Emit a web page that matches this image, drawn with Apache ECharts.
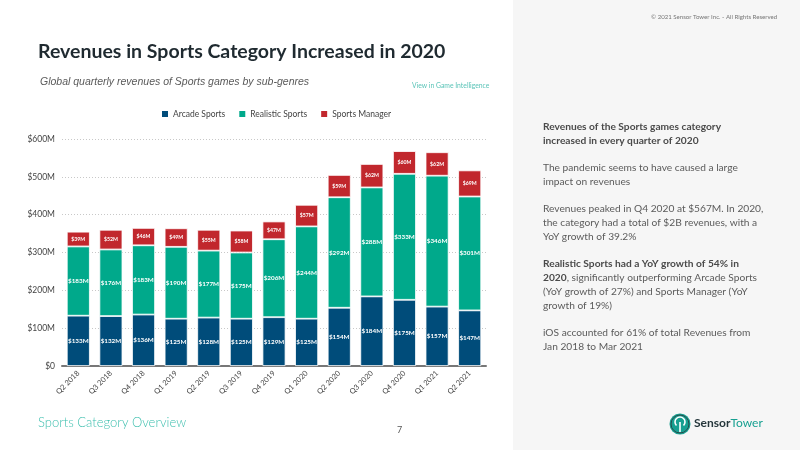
<!DOCTYPE html>
<html>
<head>
<meta charset="utf-8">
<script src="https://cdn.jsdelivr.net/npm/echarts@6/dist/echarts.min.js"></script>
<style>
  html, body { margin: 0; padding: 0; background: #fff; }
  #chart { width: 800px; height: 450px; }
</style>
</head>
<body>
<div id="chart"></div>
<script>
var quarters = ['Q2 2018', 'Q3 2018', 'Q4 2018', 'Q1 2019', 'Q2 2019', 'Q3 2019', 'Q4 2019',
  'Q1 2020', 'Q2 2020', 'Q3 2020', 'Q4 2020', 'Q1 2021', 'Q2 2021'];
var arcade = [133, 132, 136, 125, 128, 125, 129, 125, 154, 184, 175, 157, 147];
var realistic = [183, 176, 183, 190, 177, 175, 206, 244, 292, 288, 333, 346, 301];
var manager = [39, 52, 46, 49, 55, 58, 47, 57, 59, 62, 60, 62, 69];
var yMax = 600;
var yStep = 100;

var chartDom = document.getElementById('chart');
var myChart = echarts.init(chartDom);

var FONT = 'Lato';
var TEXT_GREY = '#5b5b5b';

function money(v) {
  return v === 0 ? '$0' : '$' + v + 'M';
}

function barSeries(name, data, color, labelSize) {
  return {
    name: name,
    type: 'bar',
    stack: 'rev',
    barWidth: 23,
    data: data,
    itemStyle: { color: color, borderColor: '#ffffff', borderWidth: 0.8 },
    label: {
      show: true,
      position: 'inside',
      color: '#fff',
      fontFamily: FONT,
      fontWeight: 'bold',
      fontSize: labelSize,
      formatter: function (p) { return '$' + p.value + 'M'; }
    },
    emphasis: { disabled: true }
  };
}

// right side notes, one entry per paragraph line
var notes = [
  { y: 129, text: '{b|Revenues of the Sports games category}' },
  { y: 143, text: '{b|increased in every quarter of 2020}' },
  { y: 170, text: '{n|The pandemic seems to have caused a large}' },
  { y: 184, text: '{n|impact on revenues}' },
  { y: 211, text: '{n|Revenues peaked in Q4 2020 at $567M. In 2020,}' },
  { y: 225, text: '{n|the category had a total of $2B revenues, with a}' },
  { y: 239, text: '{n|YoY growth of 39.2%}' },
  { y: 266, text: '{b|Realistic Sports had a YoY growth of 54% in}' },
  { y: 280, text: '{b|2020}{n|, significantly outperforming Arcade Sports}' },
  { y: 294, text: '{n|(YoY growth of 27%) and Sports Manager (YoY}' },
  { y: 308, text: '{n|growth of 19%)}' },
  { y: 335, text: '{n|iOS accounted for 61% of total Revenues from}' },
  { y: 349, text: '{n|Jan 2018 to Mar 2021}' }
];

var noteElements = notes.map(function (line) {
  return {
    type: 'text',
    left: 543,
    top: line.y - 7,
    style: {
      text: line.text,
      rich: {
        b: { fontFamily: FONT, fontSize: 10.2, fontWeight: 'bold', fill: '#4a4a4a' },
        n: { fontFamily: FONT, fontSize: 10.2, fill: TEXT_GREY }
      }
    }
  };
});

var option = {
  backgroundColor: '#ffffff',
  animation: false,
  graphic: [
    { type: 'rect', shape: { x: 513, y: 0, width: 287, height: 450 }, style: { fill: '#f6f6f6' }, z: -10 },
    {
      type: 'text', left: 38, top: 42,
      style: { text: 'Revenues in Sports Category Increased in 2020', fontFamily: FONT, fontSize: 19.5, fontWeight: 'bold', fill: '#1f2a30' }
    },
    {
      type: 'text', left: 40, top: 77,
      style: { text: 'Global quarterly revenues of Sports games by sub-genres', fontFamily: 'Liberation Sans', fontSize: 10.5, fontStyle: 'italic', fill: '#5a5a5a' }
    },
    {
      type: 'text', left: 412, top: 82,
      style: { text: 'View in Game Intelligence', fontFamily: FONT, fontSize: 6.8, fill: '#5bc4b8' }
    },
    {
      type: 'text', left: 651, top: 14,
      style: { text: '\u00a9 2021 Sensor Tower Inc. - All Rights Reserved', fontFamily: FONT, fontSize: 6.1, fill: '#777' }
    },
    {
      type: 'text', left: 38, top: 416,
      style: { text: 'Sports Category Overview', fontFamily: FONT, fontSize: 13, fontWeight: 300, fill: '#3dbfae' }
    },
    {
      type: 'text', left: 397, top: 426,
      style: { text: '7', fontFamily: FONT, fontSize: 9, fill: '#555' }
    },
    // logo
    { type: 'circle', shape: { cx: 680, cy: 424, r: 10.5 }, style: { fill: '#17a091' } },
    { type: 'circle', shape: { cx: 680, cy: 424, r: 9 }, style: { fill: 'none', stroke: '#2b4a4a', lineWidth: 1 } },
    { type: 'arc', shape: { cx: 680, cy: 422, r: 5, startAngle: Math.PI * 0.75, endAngle: Math.PI * 0.25 }, style: { fill: 'none', stroke: '#ffffff', lineWidth: 1.6 } },
    { type: 'line', shape: { x1: 680, y1: 422, x2: 680, y2: 432 }, style: { stroke: '#ffffff', lineWidth: 1.6 } },
    {
      type: 'text', left: 694, top: 417,
      style: {
        text: '{b|Sensor}{n|Tower}',
        rich: {
          b: { fontFamily: FONT, fontSize: 12, fontWeight: 'bold', fill: '#26373c' },
          n: { fontFamily: FONT, fontSize: 12, fill: '#17a091' }
        }
      }
    }
  ].concat(noteElements),
  legend: {
    top: 109,
    left: 160,
    padding: 0,
    itemWidth: 8,
    itemHeight: 8,
    itemGap: 12,
    icon: 'rect',
    textStyle: { fontFamily: FONT, fontSize: 8.5, color: '#444', padding: [0, 0, 0, -1] },
    data: ['Arcade Sports', 'Realistic Sports', 'Sports Manager']
  },
  grid: { left: 62, right: 314, top: 139, bottom: 84, containLabel: false },
  xAxis: {
    type: 'category',
    data: quarters,
    axisLine: { lineStyle: { color: '#777', width: 2 } },
    axisTick: { show: false },
    axisLabel: { rotate: 45, fontFamily: FONT, fontSize: 7.5, color: '#444', margin: 6, interval: 0 }
  },
  yAxis: {
    type: 'value',
    min: 0,
    max: yMax,
    interval: yStep,
    axisLine: { show: false },
    axisTick: { show: false },
    axisLabel: { fontFamily: FONT, fontSize: 8.5, color: '#444', margin: 7, formatter: money },
    splitLine: { lineStyle: { color: '#c8c8c8', type: [1, 2], width: 1 } }
  },
  series: [
    barSeries('Arcade Sports', arcade, '#004c7a', 6.3),
    barSeries('Realistic Sports', realistic, '#00a98b', 6.3),
    barSeries('Sports Manager', manager, '#c1272d', 5.2)
  ]
};

option && myChart.setOption(option);
</script>
</body>
</html>
